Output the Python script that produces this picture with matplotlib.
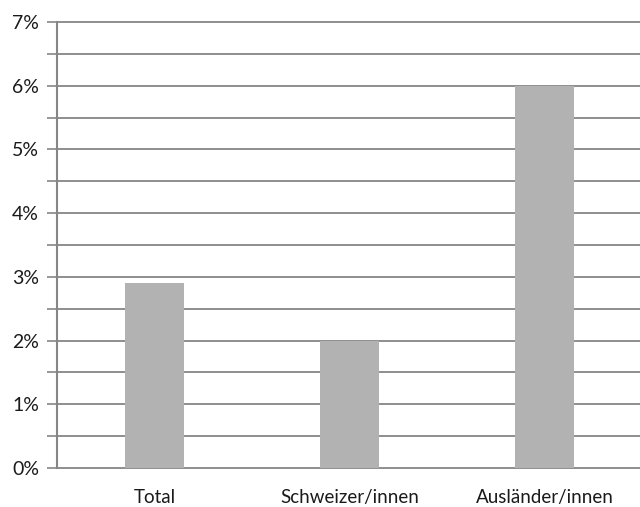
import matplotlib.pyplot as plt
import numpy as np

# Daten
kategorien = ['Total', 'Schweizer/innen', 'Ausländer/innen']
werte = [2.9, 2.0, 6.0]
y_ticks = np.arange(0, 7.01, 0.5)
y_labels = [f'{int(v)}%' if v == int(v) else '' for v in y_ticks]

plt.rcParams['font.family'] = ['Lato', 'DejaVu Sans']

fig = plt.figure(figsize=(6.4, 5.07), dpi=100)
ax = fig.add_axes([0.089, 0.077, 0.914, 0.8796])

grau = '#868686'
x = np.arange(len(kategorien))
ax.bar(x, werte, width=0.30, color='#b2b2b2', zorder=3)

ax.set_xlim(-0.5, 2.5)
ax.set_ylim(0, 7)
ax.set_yticks(y_ticks)
ax.set_yticklabels(y_labels, fontsize=14, color='#1a1a1a')
ax.set_xticks(x)
ax.set_xticklabels(kategorien, fontsize=13.5, color='#1a1a1a')
ax.tick_params(axis='y', length=7, width=1.2, color=grau, pad=6)
ax.tick_params(axis='x', length=0, pad=15)

ax.grid(axis='y', color=grau, linewidth=1.3, zorder=0)
for line in ax.get_ygridlines():
    line.set_clip_on(False)
for s in ['top', 'right', 'bottom']:
    ax.spines[s].set_visible(False)
ax.spines['left'].set_color(grau)
ax.spines['left'].set_linewidth(1.5)

plt.savefig('out.png', dpi=100)
